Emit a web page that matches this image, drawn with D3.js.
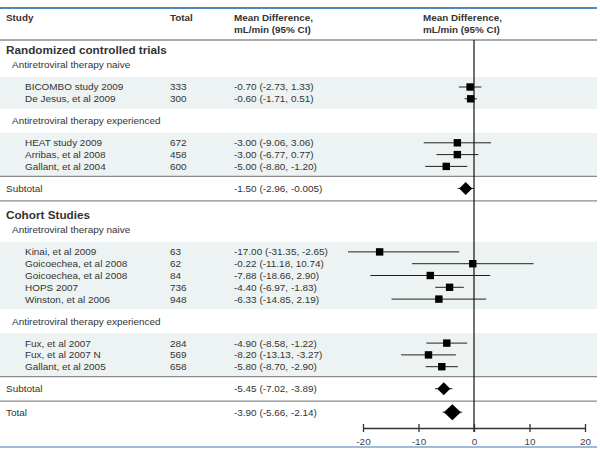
<!DOCTYPE html>
<html>
<head>
<meta charset="utf-8">
<script src="https://cdn.jsdelivr.net/npm/d3@7"></script>
<style>
  html, body { margin: 0; padding: 0; background: #fff; }
  svg { display: block; }
  text { font-family: "Liberation Sans", Arial, sans-serif; fill: #333; }
</style>
</head>
<body>
<script>
// ---------------- DATA ----------------
const sectionLabels = ["Randomized controlled trials", "Cohort Studies"];
const groupLabels = ["Antiretroviral therapy naive", "Antiretroviral therapy experienced",
                     "Antiretroviral therapy naive", "Antiretroviral therapy experienced"];
const groupSection = [0, 0, 1, 1];

const studyNames = ["BICOMBO study 2009", "De Jesus, et al 2009",
  "HEAT study 2009", "Arribas, et al 2008", "Gallant, et al 2004",
  "Kinai, et al 2009", "Goicoechea, et al 2008", "Goicoechea, et al 2008", "HOPS 2007", "Winston, et al 2006",
  "Fux, et al 2007", "Fux, et al 2007 N", "Gallant, et al 2005"];
const studyGroup  = [0, 0, 1, 1, 1, 2, 2, 2, 2, 2, 3, 3, 3];
const studyTotals = [333, 300, 672, 458, 600, 63, 62, 84, 736, 948, 284, 569, 658];
const studyMeans  = [-0.70, -0.60, -3.00, -3.00, -5.00, -17.00, -0.22, -7.88, -4.40, -6.33, -4.90, -8.20, -5.80];
const studyLower  = [-2.73, -1.71, -9.06, -6.77, -8.80, -31.35, -11.18, -18.66, -6.97, -14.85, -8.58, -13.13, -8.70];
const studyUpper  = [1.33, 0.51, 3.06, 0.77, -1.20, -2.65, 10.74, 2.90, -1.83, 2.19, -1.22, -3.27, -2.90];

const pooledLabels = ["Subtotal", "Subtotal", "Total"];
const pooledMeans  = [-1.50, -5.45, -3.90];
const pooledLower  = [-2.96, -7.02, -5.66];
const pooledUpper  = [-0.005, -3.89, -2.14];

const xTicks = [-20, -10, 0, 10, 20];
const headers = { study: "Study", total: "Total", md: ["Mean Difference,", "mL/min (95% CI)"] };

// ---------------- LAYOUT ----------------
const W = 600, H = 452;
const fullLeft = 0, fullRight = 597;
const col = { section: 6, group: 12, study: 25, total: 170, md: 234, plot: 423 };
const gap = { headerToSection: 10, lineToSection: 14, sectionToGroup: 15, groupToStudy: 22,
              studyStep: 11.8, studyToGroup: 22, studyToSub: 22, subToLine: 12.5,
              lineToTotal: 11, bandPad: 10 };

const fmt = v => (v !== 0 && Math.abs(v) < 0.01) ? v.toFixed(3) : v.toFixed(2);

const svg = d3.select("body").append("svg").attr("width", W).attr("height", H);

// calibrate font sizes against widths measured on the reference
function fitSize(str, bold, target) {
  const t = svg.append("text").attr("font-size", 10).attr("font-weight", bold ? "bold" : null).text(str);
  const w = t.node().getComputedTextLength();
  t.remove();
  return w > 0 ? 10 * target / w : 10;
}
const fs = Math.min(10.2, fitSize("-17.00 (-31.35, -2.65)", false, 94));
const fsSection = fitSize("Randomized controlled trials", true, 161);
const fsHead = fitSize("Mean Difference,", true, 79);

const x = d3.scaleLinear().domain([-20, 20]).range([363, 585]);
const clipX = v => Math.max(348, Math.min(fullRight, x(v)));

const gBands = svg.append("g");
const gLines = svg.append("g");
const gText = svg.append("g");
const gMarks = svg.append("g");

const headerLineY = 40;

// header
const topY = 8;
gLines.append("line").attr("x1", fullLeft).attr("x2", fullRight).attr("y1", topY).attr("y2", topY)
  .attr("stroke", "#5186bf").attr("stroke-width", 2);
gText.append("text").attr("x", col.section).attr("y", 20.5).text(headers.study)
  .attr("font-weight", "bold").attr("font-size", fsHead);
gText.append("text").attr("x", col.total).attr("y", 20.5).text(headers.total)
  .attr("font-weight", "bold").attr("font-size", fsHead);
[col.md, col.plot].forEach(cx => {
  headers.md.forEach((t, i) => {
    gText.append("text").attr("x", cx).attr("y", 20.5 + i * 12.5).text(t)
      .attr("font-weight", "bold").attr("font-size", fsHead);
  });
});
gLines.append("line").attr("x1", fullLeft).attr("x2", fullRight).attr("y1", headerLineY).attr("y2", headerLineY)
  .attr("stroke", "#8c8c8c").attr("stroke-width", 1.3);

function hline(y) {
  gLines.append("line").attr("x1", fullLeft).attr("x2", fullRight).attr("y1", y).attr("y2", y)
    .attr("stroke", "#8c8c8c").attr("stroke-width", 1.3);
}
function label(xp, y, t, opts = {}) {
  return gText.append("text").attr("x", xp).attr("y", y).attr("dy", "0.35em")
    .attr("font-size", opts.size || fs).attr("font-weight", opts.bold ? "bold" : null).text(t);
}
function diamond(m, lo, hi, y, half, halfH) {
  gMarks.append("line").attr("x1", clipX(lo)).attr("x2", clipX(hi)).attr("y1", y).attr("y2", y)
    .attr("stroke", "#222").attr("stroke-width", 1);
  const cx = x(m);
  gMarks.append("path")
    .attr("d", `M${cx - half},${y} L${cx},${y - halfH} L${cx + half},${y} L${cx},${y + halfH} Z`)
    .attr("fill", "#000");
}

let cur = headerLineY;
let pooledIdx = 0;
sectionLabels.forEach((sec, si) => {
  cur += si === 0 ? gap.headerToSection : gap.lineToSection;
  label(col.section, cur, sec, { bold: true, size: fsSection });
  let lastStudyY = null;
  groupLabels.forEach((gl, gi) => {
    if (groupSection[gi] !== si) return;
    cur += lastStudyY === null ? gap.sectionToGroup : gap.studyToGroup;
    label(col.group, cur, gl);
    const idx = studyNames.map((_, i) => i).filter(i => studyGroup[i] === gi);
    const ys = idx.map((_, k) => cur + gap.groupToStudy + k * gap.studyStep);
    const bandTop = ys[0] - gap.bandPad, bandBot = ys[ys.length - 1] + gap.bandPad;
    gBands.append("rect").attr("x", fullLeft).attr("width", fullRight - fullLeft)
      .attr("y", bandTop).attr("height", bandBot - bandTop).attr("fill", "#edf3f2");
    idx.forEach((i, k) => {
      const y = ys[k];
      label(col.study, y, studyNames[i]);
      label(col.total, y, studyTotals[i]);
      label(col.md, y, `${fmt(studyMeans[i])} (${fmt(studyLower[i])}, ${fmt(studyUpper[i])})`);
      gMarks.append("line").attr("x1", clipX(studyLower[i])).attr("x2", clipX(studyUpper[i]))
        .attr("y1", y).attr("y2", y).attr("stroke", "#222").attr("stroke-width", 1);
      gMarks.append("rect").attr("x", x(studyMeans[i]) - 3.7).attr("y", y - 3.7)
        .attr("width", 7.4).attr("height", 7.4).attr("fill", "#000");
    });
    lastStudyY = ys[ys.length - 1];
    cur = lastStudyY;
  });
  hline(lastStudyY + gap.bandPad);
  cur = lastStudyY + gap.studyToSub;
  const p = pooledIdx++;
  label(col.section, cur, pooledLabels[p]);
  label(col.md, cur, `${fmt(pooledMeans[p])} (${fmt(pooledLower[p])}, ${fmt(pooledUpper[p])})`);
  diamond(pooledMeans[p], pooledLower[p], pooledUpper[p], cur, 6.5, 6.5);
  cur += gap.subToLine;
  hline(cur);
});
// total
cur += gap.lineToTotal;
{
  const p = pooledIdx;
  label(col.section, cur, pooledLabels[p]);
  label(col.md, cur, `${fmt(pooledMeans[p])} (${fmt(pooledLower[p])}, ${fmt(pooledUpper[p])})`);
  diamond(pooledMeans[p], pooledLower[p], pooledUpper[p], cur, 8.5, 8);
}

// axis
const axisY = 428;
const axis = d3.axisBottom(x).tickValues(xTicks).tickSizeOuter(0).tickSizeInner(4).tickPadding(6)
  .tickFormat(d => String(d));
const gAxis = svg.append("g").attr("transform", `translate(0,${axisY})`).call(axis);
gAxis.select(".domain").attr("stroke", "#333").attr("stroke-width", 1.6);
gAxis.selectAll(".tick line").attr("y1", -4).attr("y2", 4).attr("stroke", "#333").attr("stroke-width", 1.3);
gAxis.selectAll(".tick text").attr("font-size", fs).attr("font-family", "Liberation Sans, Arial, sans-serif")
  .style("fill", "#444");

// zero line
gMarks.append("line").attr("x1", x(0)).attr("x2", x(0)).attr("y1", headerLineY).attr("y2", axisY + 4)
  .attr("stroke", "#111").attr("stroke-width", 1.2);

// bottom rule
gLines.append("line").attr("x1", fullLeft).attr("x2", fullRight).attr("y1", 447).attr("y2", 447)
  .attr("stroke", "#7ea5d1").attr("stroke-width", 1.5);
</script>
</body>
</html>
